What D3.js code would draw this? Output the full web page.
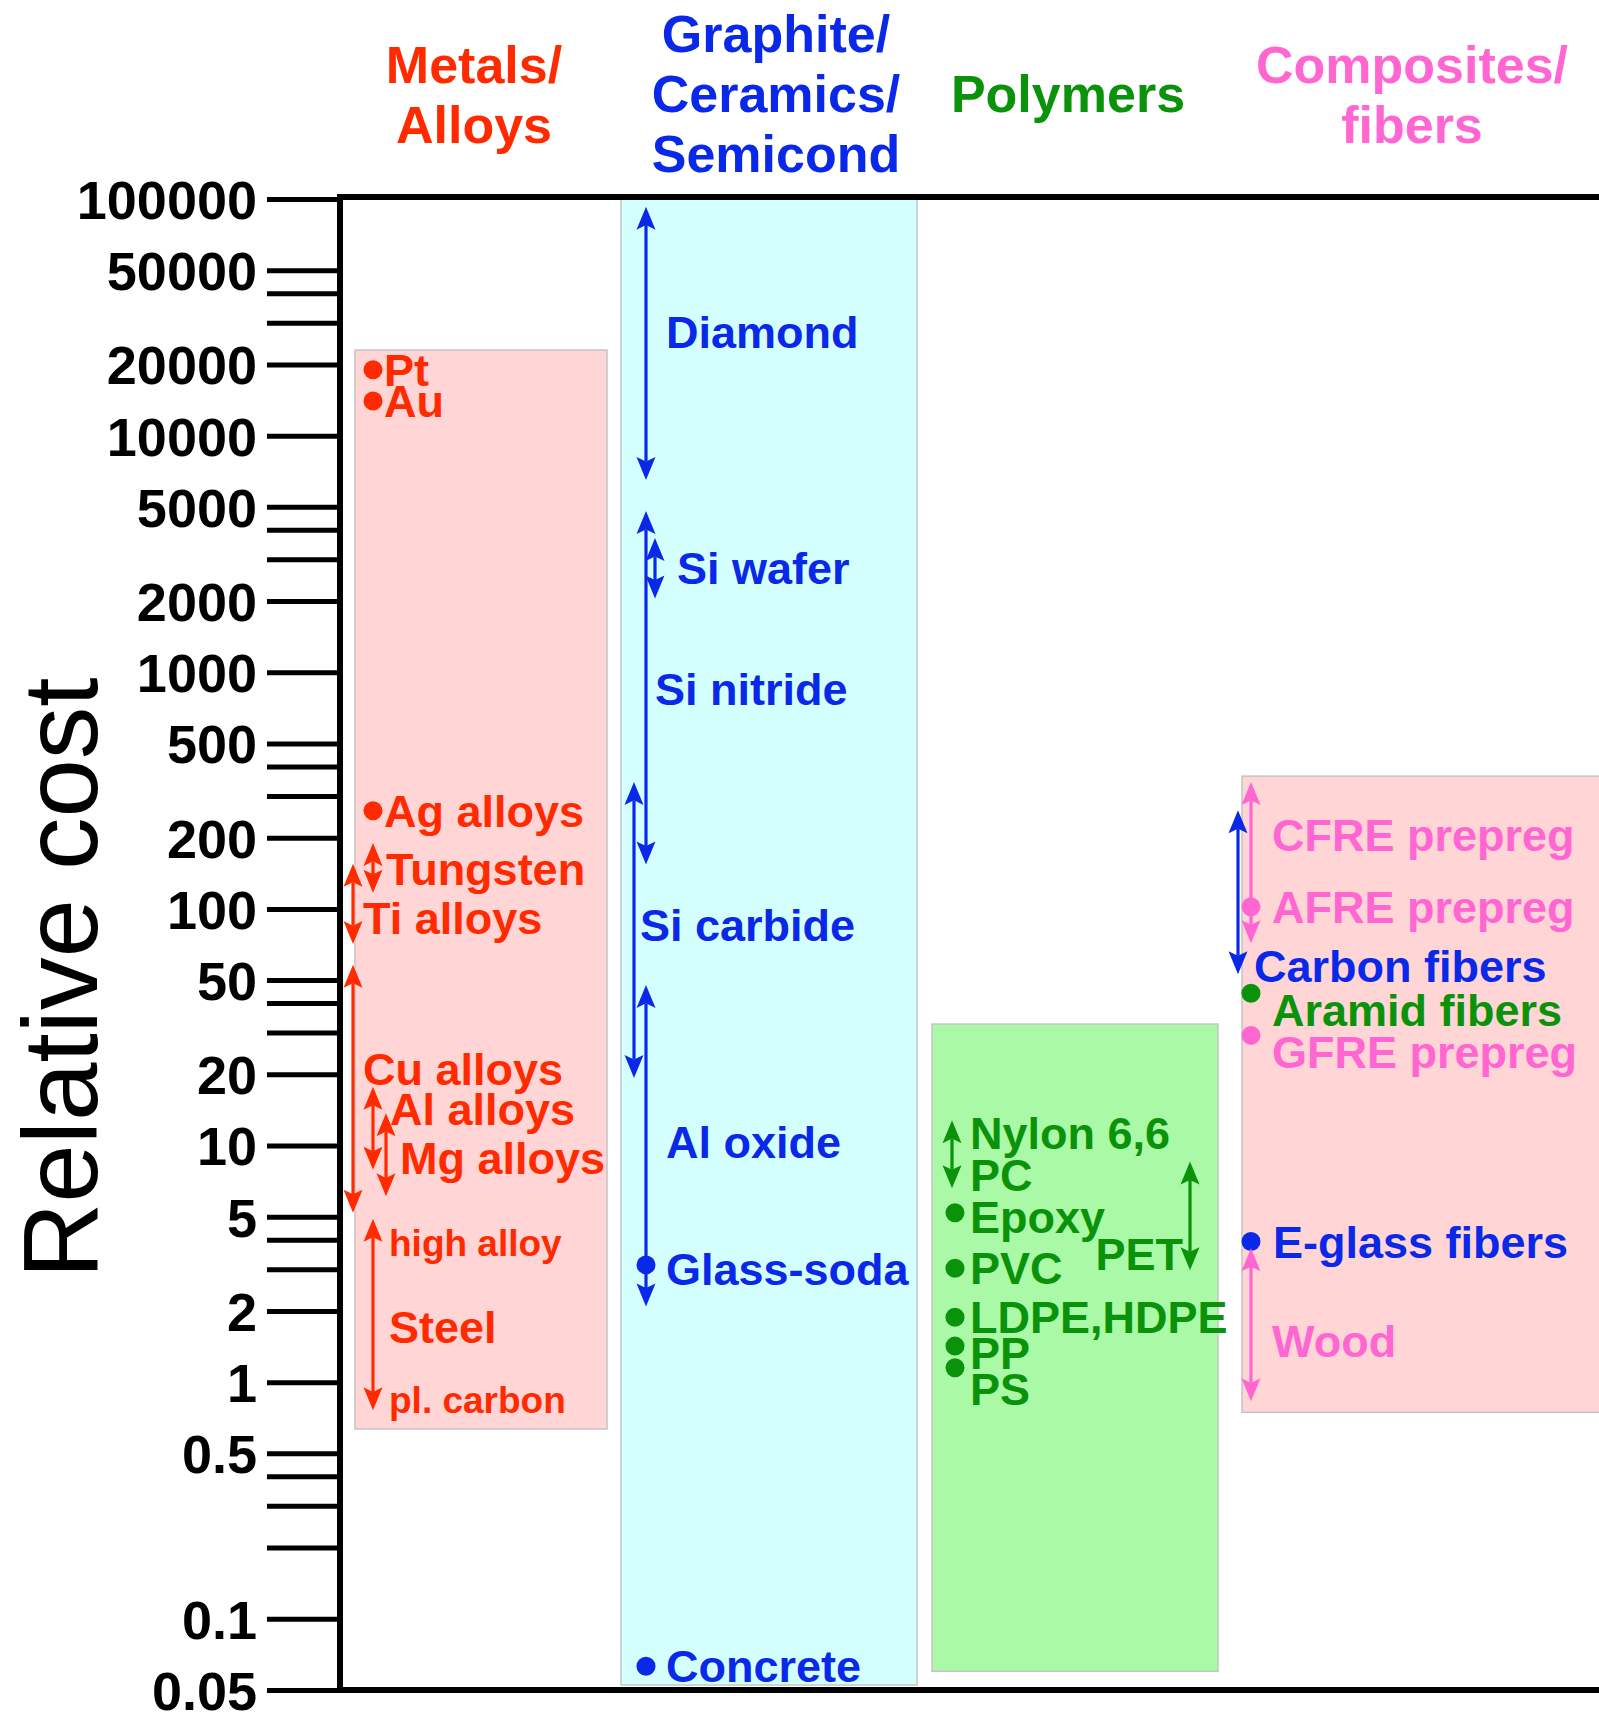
<!DOCTYPE html>
<html>
<head>
<meta charset="utf-8">
<script src="https://cdn.jsdelivr.net/npm/d3@7"></script>
<style>
  html, body { margin: 0; padding: 0; background: #fff; }
  svg { display: block; font-family: "Liberation Sans", Arial, Helvetica, sans-serif; }
</style>
</head>
<body>
<svg id="chart" width="1599" height="1721"></svg>
<script>
// ---- data: relative cost (mild steel = 1) -------------------------------
const categories = ["Metals/Alloys", "Graphite/Ceramics/Semicond", "Polymers", "Composites/fibers"];
const categoryLines = [["Metals/", "Alloys"], ["Graphite/", "Ceramics/", "Semicond"], ["Polymers"], ["Composites/", "fibers"]];

const tickValues = [100000, 50000, 40000, 30000, 20000, 10000, 5000, 4000, 3000, 2000, 1000,
                    500, 400, 300, 200, 100, 50, 40, 30, 20, 10, 5, 4, 3, 2, 1,
                    0.5, 0.4, 0.3, 0.2, 0.1, 0.05];
const tickLabels = ["100000", "50000", "", "", "20000", "10000", "5000", "", "", "2000", "1000",
                    "500", "", "", "200", "100", "50", "", "", "20", "10", "5", "", "", "2", "1",
                    "0.5", "", "", "", "0.1", "0.05"];

// value extent of each shaded family band (top, bottom)
const bandTop    = [23000, 100000, 32.6, 364];
const bandBottom = [0.634, 0.0525, 0.060, 0.745];

// single values are dots, lo/hi pairs are ranges
const metals = [
  { id: "Pt", lo: 19000 },
  { id: "Au", lo: 14000 },
  { id: "Ag", lo: 260 },
  { id: "W",  lo: 117, hi: 190 },
  { id: "Ti", lo: 71,  hi: 155 },
  { id: "Cu", lo: 5.2, hi: 58 },
  { id: "Al", lo: 7.9, hi: 17.7 },
  { id: "Mg", lo: 6.1, hi: 13.7 },
  { id: "Steel", lo: 0.76, hi: 4.9 }
];
const metalLabels = [
  { text: "Pt", at: 19000, ref: "Pt" },
  { text: "Au", at: 14000, ref: "Au" },
  { text: "Ag alloys", at: 260, ref: "Ag" },
  { text: "Tungsten", at: 148, ref: "W" },
  { text: "Ti alloys", at: 92, ref: "Ti" },
  { text: "Cu alloys", at: 21, ref: "Cu" },
  { text: "Al alloys", at: 14.3, ref: "Al" },
  { text: "Mg alloys", at: 8.9, ref: "Mg" },
  { text: "high alloy", at: 3.9, ref: "Steel", small: true },
  { text: "Steel", at: 1.72, ref: "Steel" },
  { text: "pl. carbon", at: 0.84, ref: "Steel", small: true }
];

const ceramics = [
  { id: "Diamond", lo: 6500, hi: 92800 },
  { id: "SiWafer", lo: 2050, hi: 3690 },
  { id: "SiNitride", lo: 154, hi: 4800 },
  { id: "SiCarbide", lo: 19.3, hi: 344 },
  { id: "AlOxide", lo: 2.09, hi: 47.7 },
  { id: "Glass", lo: 3.13 },
  { id: "Concrete", lo: 0.063 }
];
const ceramicLabels = [
  { text: "Diamond", at: 27500, ref: "Diamond" },
  { text: "Si wafer", at: 2765, ref: "SiWafer" },
  { text: "Si nitride", at: 853, ref: "SiNitride" },
  { text: "Si carbide", at: 86, ref: "SiCarbide" },
  { text: "Al oxide", at: 10.4, ref: "AlOxide" },
  { text: "Glass-soda", at: 3.0, ref: "Glass" },
  { text: "Concrete", at: 0.063, ref: "Concrete" }
];

const polymers = [
  { id: "Nylon", lo: 6.6, hi: 12.8 },
  { id: "Epoxy", lo: 5.2 },
  { id: "PVC", lo: 3.03 },
  { id: "PE", lo: 1.88 },
  { id: "PP", lo: 1.42 },
  { id: "PS", lo: 1.15 },
  { id: "PET", lo: 2.97, hi: 8.55 }
];
const polymerLabels = [
  { text: "Nylon 6,6", at: 11.3, ref: "Nylon" },
  { text: "PC", at: 7.5, ref: "Nylon" },
  { text: "Epoxy", at: 5.0, ref: "Epoxy" },
  { text: "PVC", at: 3.03, ref: "PVC" },
  { text: "LDPE,HDPE", at: 1.88, ref: "PE" },
  { text: "PP", at: 1.33, ref: "PP" },
  { text: "PS", at: 0.94, ref: "PS" },
  { text: "PET", at: 3.49, ref: "PET", end: true }
];

const composites = [
  { id: "CFRE", lo: 71.6, hi: 344, kind: "pink" },
  { id: "AFRE", lo: 102, kind: "pink" },
  { id: "Carbon", lo: 53, hi: 261, kind: "blue" },
  { id: "Aramid", lo: 44, kind: "green" },
  { id: "GFRE", lo: 29.2, kind: "pink" },
  { id: "Eglass", lo: 3.93, kind: "blue" },
  { id: "Wood", lo: 0.83, hi: 3.68, kind: "pink" }
];
const compositeLabels = [
  { text: "CFRE prepreg", at: 206, ref: "CFRE" },
  { text: "AFRE prepreg", at: 102, ref: "AFRE" },
  { text: "Carbon fibers", at: 57.3, ref: "Carbon" },
  { text: "Aramid fibers", at: 37.3, ref: "Aramid" },
  { text: "GFRE prepreg", at: 24.9, ref: "GFRE" },
  { text: "E-glass fibers", at: 3.93, ref: "Eglass" },
  { text: "Wood", at: 1.5, ref: "Wood" }
];

// ---- styling / layout ---------------------------------------------------
const palette = { red: "#ff2a00", blue: "#0a28e8", green: "#0a930a", pink: "#ff66d2" };
const familyColor = [palette.red, palette.blue, palette.green, palette.pink];
const bandFill = ["#ffd5d5", "#d4ffff", "#a9f9a6", "#ffd5d5"];
const bandX = [[355, 607], [621, 917], [932, 1218], [1242, 1602]];
const headerX = [474, 776, 1068, 1412];
const headerBase = [[83, 143], [52, 112, 172], [112], [83, 143]];

// x lane of each mark, and where its label text starts
const markX = {
  Pt: 373, Au: 373, Ag: 373, W: 373, Ti: 353, Cu: 353, Al: 373, Mg: 386, Steel: 373,
  Diamond: 646, SiWafer: 655, SiNitride: 646, SiCarbide: 634, AlOxide: 646, Glass: 646, Concrete: 646,
  Nylon: 952, Epoxy: 955, PVC: 955, PE: 955, PP: 955, PS: 955, PET: 1190,
  CFRE: 1251, AFRE: 1251, Carbon: 1238, Aramid: 1251, GFRE: 1251, Eglass: 1251, Wood: 1251
};
const labelX = {
  "Pt": 384, "Au": 384, "Ag alloys": 384, "Tungsten": 386, "Ti alloys": 363, "Cu alloys": 363,
  "Al alloys": 390, "Mg alloys": 400, "high alloy": 389, "Steel": 389, "pl. carbon": 389,
  "Diamond": 666, "Si wafer": 677, "Si nitride": 655, "Si carbide": 640, "Al oxide": 666,
  "Glass-soda": 666, "Concrete": 666,
  "Nylon 6,6": 970, "PC": 970, "Epoxy": 970, "PVC": 970, "LDPE,HDPE": 970, "PP": 970, "PS": 970,
  "PET": 1183,
  "CFRE prepreg": 1272, "AFRE prepreg": 1272, "Carbon fibers": 1254, "Aramid fibers": 1272,
  "GFRE prepreg": 1272, "E-glass fibers": 1273, "Wood": 1272
};

const svg = d3.select("#chart");
const axisX = 340;
const y = d3.scaleLog().domain([0.05, 100000]).range([1690, 199]);

// shaded family bands
svg.append("g").selectAll("rect")
  .data(categories)
  .join("rect")
  .attr("x", (d, i) => bandX[i][0])
  .attr("width", (d, i) => bandX[i][1] - bandX[i][0])
  .attr("y", (d, i) => y(bandTop[i]))
  .attr("height", (d, i) => y(bandBottom[i]) - y(bandTop[i]))
  .attr("fill", (d, i) => bandFill[i])
  .attr("stroke", "#c4c4c4")
  .attr("stroke-width", 1.5);

// family headers
categories.forEach((c, i) => {
  const t = svg.append("text")
    .attr("text-anchor", "middle")
    .attr("font-size", 52)
    .attr("font-weight", "bold")
    .attr("fill", familyColor[i]);
  categoryLines[i].forEach((line, k) => {
    t.append("tspan").attr("x", headerX[i]).attr("y", headerBase[i][k]).text(line);
  });
});

// log axis
const axis = d3.axisLeft(y)
  .tickValues(tickValues)
  .tickFormat((d, i) => tickLabels[i])
  .tickSize(73)
  .tickPadding(10);
const gAxis = svg.append("g").attr("transform", `translate(${axisX},0)`).call(axis);
gAxis.select(".domain").remove();
gAxis.selectAll(".tick line").attr("stroke", "#000").attr("stroke-width", 5);
gAxis.selectAll(".tick text")
  .attr("font-size", 54)
  .attr("font-weight", "bold")
  .attr("fill", "#000")
  .attr("dy", "0.36em");

// frame: left axis, top and bottom rules
const [yBottom, yTop] = y.range();
svg.append("path")
  .attr("d", `M1599,${yTop - 2}H${axisX}V${yBottom}H1599`)
  .attr("fill", "none")
  .attr("stroke", "#000")
  .attr("stroke-width", 6);

// axis title
svg.append("text")
  .attr("transform", "translate(97,978) rotate(-90)")
  .attr("text-anchor", "middle")
  .attr("font-size", 105)
  .attr("fill", "#000")
  .text("Relative cost");

// double-headed range arrows and single-value dots
const headLen = 23, headHalf = 9.5;
function drawMarks(items, labels, colorOf) {
  const g = svg.append("g");
  items.forEach(d => {
    const x = markX[d.id];
    const col = colorOf(d);
    if (d.hi === undefined) {
      g.append("circle").attr("cx", x).attr("cy", y(d.lo)).attr("r", 9.5).attr("fill", col);
    } else {
      const y1 = y(d.hi), y2 = y(d.lo);
      g.append("line")
        .attr("x1", x).attr("x2", x)
        .attr("y1", y1 + headLen * 0.8).attr("y2", y2 - headLen * 0.8)
        .attr("stroke", col).attr("stroke-width", 3.2);
      g.append("path")
        .attr("d", `M${x},${y1}L${x - headHalf},${y1 + headLen}L${x},${y1 + headLen * 0.8}L${x + headHalf},${y1 + headLen}Z`)
        .attr("fill", col);
      g.append("path")
        .attr("d", `M${x},${y2}L${x - headHalf},${y2 - headLen}L${x},${y2 - headLen * 0.8}L${x + headHalf},${y2 - headLen}Z`)
        .attr("fill", col);
    }
  });
  const byId = new Map(items.map(d => [d.id, d]));
  labels.forEach(l => {
    g.append("text")
      .attr("x", labelX[l.text])
      .attr("y", y(l.at))
      .attr("dy", "0.36em")
      .attr("text-anchor", l.end ? "end" : "start")
      .attr("font-size", l.small ? 37 : 45)
      .attr("font-weight", "bold")
      .attr("fill", colorOf(byId.get(l.ref)))
      .text(l.text);
  });
}

drawMarks(metals, metalLabels, () => palette.red);
drawMarks(ceramics, ceramicLabels, () => palette.blue);
drawMarks(polymers, polymerLabels, () => palette.green);
drawMarks(composites, compositeLabels, d => palette[d.kind]);
</script>
</body>
</html>
